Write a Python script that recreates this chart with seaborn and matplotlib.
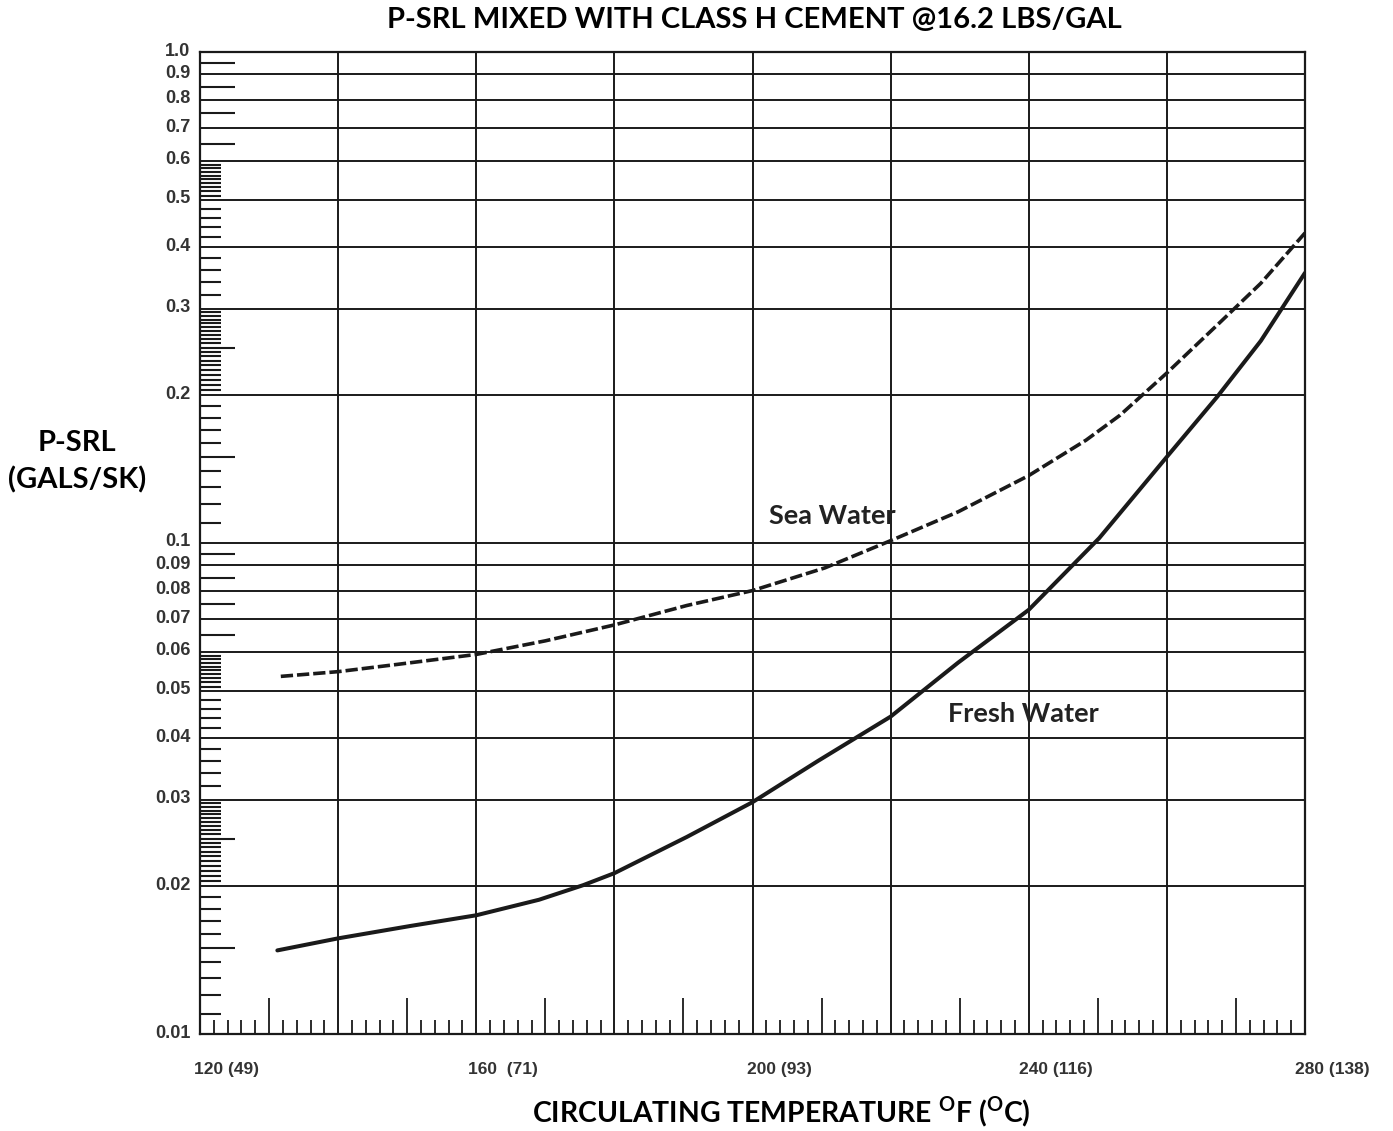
import numpy as np
import pandas as pd
import matplotlib
matplotlib.use("Agg")
import matplotlib.pyplot as plt
import matplotlib.transforms as mtransforms
from matplotlib.ticker import FixedLocator, FixedFormatter, NullFormatter
import seaborn as sns

# ---------------- data ----------------
temp_sea = [131.7, 140, 148.6, 160, 170, 180, 190.5, 200, 210.5, 220, 229.8, 240, 248.3, 253.2, 260,
            267.3, 273.6, 280]
psrl_sea = [0.0535, 0.0547, 0.0566, 0.0593, 0.0632, 0.0681, 0.0746, 0.080, 0.089, 0.1011, 0.1158,
            0.1372, 0.162, 0.182, 0.222, 0.278, 0.338, 0.428]

temp_fresh = [131.2, 140, 150.5, 160, 169.1, 175.5, 180, 190.5, 200, 209.5, 220, 229.8, 240, 250.2,
              260, 267.3, 273.6, 280]
psrl_fresh = [0.0148, 0.01566, 0.0166, 0.01745, 0.01877, 0.0201, 0.02126, 0.0252, 0.02966, 0.036,
              0.0443, 0.0571, 0.0731, 0.1023, 0.1498, 0.1986, 0.258, 0.355]

series_names = ["Sea Water", "Fresh Water"]

x_tick_values = [120, 140, 160, 180, 200, 220, 240, 260, 280]
x_tick_labels = ["120 (49)", "", "160  (71)", "", "200 (93)", "", "240 (116)", "", "280 (138)"]

y_tick_values = [0.01, 0.02, 0.03, 0.04, 0.05, 0.06, 0.07, 0.08, 0.09, 0.1,
                 0.2, 0.3, 0.4, 0.5, 0.6, 0.7, 0.8, 0.9, 1.0]
y_tick_labels = ["0.01", "0.02", "0.03", "0.04", "0.05", "0.06", "0.07", "0.08", "0.09", "0.1",
                 "0.2", "0.3", "0.4", "0.5", "0.6", "0.7", "0.8", "0.9", "1.0"]

title_text = "P-SRL MIXED WITH CLASS H CEMENT @16.2 LBS/GAL"
ylabel_text = "P-SRL\n(GALS/SK)"
xlabel_text = r"CIRCULATING TEMPERATURE $^{\mathbf{O}}$F ($^{\mathbf{O}}$C)"

sea_label_pos = (202.4, 0.1137)
fresh_label_pos = (228.3, 0.0449)

# ---------------- style ----------------
sns.set_style("white")
plt.rcParams["font.family"] = ["Lato", "DejaVu Sans"]
plt.rcParams["mathtext.fontset"] = "custom"
plt.rcParams["mathtext.rm"] = "Lato"
plt.rcParams["mathtext.bf"] = "Lato:bold"

INK = "#1a1a1a"

df = pd.concat([
    pd.DataFrame({"temp": temp_sea, "psrl": psrl_sea, "series": series_names[0]}),
    pd.DataFrame({"temp": temp_fresh, "psrl": psrl_fresh, "series": series_names[1]}),
], ignore_index=True)

fig = plt.figure(figsize=(13.93, 11.31), dpi=100)
W, H = 1393, 1131
ax = fig.add_axes([200 / W, 1 - 1034 / H, 1105 / W, (1034 - 52) / H])

sns.lineplot(data=df, x="temp", y="psrl", hue="series", style="series", size="series",
             palette={"Sea Water": INK, "Fresh Water": INK},
             dashes={"Sea Water": (3.4, 1.1), "Fresh Water": ""},
             sizes={"Sea Water": 2.6, "Fresh Water": 2.9},
             sort=False, legend=False, ax=ax)

ax.set_yscale("log")
ax.set_xlim(120, 280)
ax.set_ylim(0.01, 1.0)
ax.set_xlabel("")
ax.set_ylabel("")

# y ticks
ax.yaxis.set_major_locator(FixedLocator(y_tick_values))
ax.yaxis.set_major_formatter(FixedFormatter(y_tick_labels))
short_pattern = ([5.1 + 0.1 * i for i in range(9)] + [4.2, 4.4, 4.6, 4.8] + [3.2, 3.4, 3.6, 3.8]
                 + [2.05 + 0.05 * i for i in range(19) if i != 9]
                 + [1.1 + 0.1 * i for i in range(9) if i != 4])
long_pattern = [9.5, 8.5, 7.5, 6.5, 2.5, 1.5]
y_minor = [round(v * d, 6) for d in (0.01, 0.1) for v in short_pattern]
y_long = [round(v * d, 6) for d in (0.01, 0.1) for v in long_pattern]
ax.yaxis.set_minor_locator(FixedLocator(y_minor))
ax.yaxis.set_minor_formatter(NullFormatter())

# x ticks
ax.xaxis.set_major_locator(FixedLocator(x_tick_values))
ax.xaxis.set_major_formatter(FixedFormatter(x_tick_labels))
x_minor = [v for v in range(122, 280, 2) if v % 10 != 0]
x_mid = list(range(130, 280, 20))
ax.xaxis.set_minor_locator(FixedLocator(x_minor))
ax.xaxis.set_minor_formatter(NullFormatter())

ax.grid(True, which="major", color=INK, linewidth=1.4)
ax.grid(False, which="minor")
for s in ax.spines.values():
    s.set_visible(True)
    s.set_color(INK)
    s.set_linewidth(1.6)

ax.tick_params(which="both", left=True, bottom=True, right=False, top=False)
ax.tick_params(axis="x", which="major", length=0, pad=20, labelsize=12.5, labelcolor="#333333")
ax.tick_params(axis="x", which="minor", direction="in", length=10, width=1.3, color=INK)
ax.tick_params(axis="y", which="major", length=0, pad=7, labelsize=13, labelcolor="#333333")
ax.tick_params(axis="y", which="minor", direction="in", length=15, width=1.5, color=INK)
for lbl in ax.get_xticklabels() + ax.get_yticklabels():
    lbl.set_fontfamily(["Liberation Sans", "DejaVu Sans"])
    lbl.set_fontweight("bold")

# medium / long ticks via secondary axes
secx = ax.secondary_xaxis("bottom")
secx.xaxis.set_major_locator(FixedLocator(x_mid))
secx.xaxis.set_major_formatter(NullFormatter())
secx.tick_params(axis="x", which="both", bottom=True, direction="in", length=26, width=1.3, color=INK)
secx.spines["bottom"].set_visible(False)

secy = ax.secondary_yaxis("left")
secy.yaxis.set_major_locator(FixedLocator(y_long))
secy.yaxis.set_major_formatter(NullFormatter())
secy.yaxis.set_minor_locator(FixedLocator([]))
secy.tick_params(axis="y", which="both", left=True, direction="in", length=25, width=1.5, color=INK)
secy.spines["left"].set_visible(False)

# shift tick labels like the original scan
offx = mtransforms.ScaledTranslation(0.27, 0, fig.dpi_scale_trans)
for lbl in ax.get_xticklabels():
    lbl.set_transform(lbl.get_transform() + offx)
offy = mtransforms.ScaledTranslation(0, 0.03, fig.dpi_scale_trans)
for lbl in ax.get_yticklabels():
    lbl.set_transform(lbl.get_transform() + offy)

# curve labels
ax.text(sea_label_pos[0], sea_label_pos[1], series_names[0], fontsize=19.5, fontweight="bold",
        color="#222222", ha="left", va="center")
ax.text(fresh_label_pos[0], fresh_label_pos[1], series_names[1], fontsize=19.5, fontweight="bold",
        color="#222222", ha="left", va="center")

# titles
fig.text(754 / W, 1 - 20 / H, title_text, fontsize=21, fontweight="bold", ha="center", va="center",
         color="black")
fig.text(77 / W, 1 - 462 / H, ylabel_text, fontsize=21, fontweight="bold", ha="center", va="center",
         multialignment="center", linespacing=1.45, color="black")
fig.text(781 / W, 1 - 1112 / H, xlabel_text, fontsize=20.4, fontweight="bold", ha="center", va="center",
         color="black")

fig.savefig("out.png", dpi=100, facecolor="white")
